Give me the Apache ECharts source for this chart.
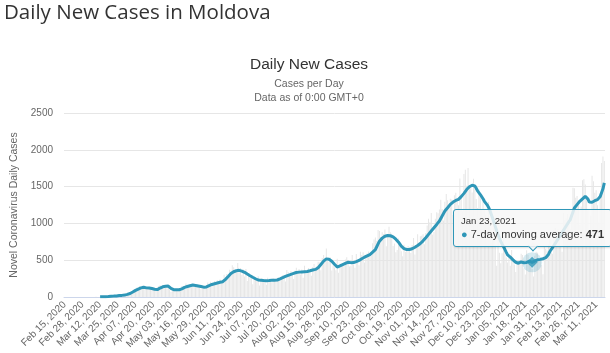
<!DOCTYPE html>
<html>
<head>
<meta charset="utf-8">
<script src="https://cdn.jsdelivr.net/npm/echarts@6/dist/echarts.min.js"></script>
<style>
  html, body { margin: 0; padding: 0; background: #fff; }
  #main { width: 610px; height: 353px; }
</style>
</head>
<body>
<div id="main"></div>
<script>
// first category (year, month 1-12, day) and how many days are on the axis
var startDate = [2020, 2, 15];
var dayCount = 397;

// y axis ticks
var yTicks = [0, 500, 1000, 1500, 2000, 2500];

// daily new cases (grey bars), Feb 15 2020 .. Mar 17 2021
var dailyCases = [
	0, 0, 0, 0, 0, 0, 0, 0, 0, 0, 0, 0, 0, 0, 0, 0, 0, 0, 0, 0, 0,
	1, 0, 2, 0, 0, 3, 6,
	6, 7, 6, 13, 11, 4, 19,
	14, 14, 26, 22, 13, 33, 22,
	22, 24, 36, 25, 58, 55, 33,
	66, 89, 100, 104, 128, 125, 151,
	112, 154, 113, 125, 131, 128, 115,
	110, 94, 102, 94, 117, 96, 148,
	158, 150, 163, 138, 146, 120, 155,
	99, 67, 118, 95, 110, 105, 96,
	112, 95, 151, 143, 112, 185, 135,
	159, 176, 162, 145, 178, 142, 170,
	141, 132, 106, 152, 147, 121, 140,
	196, 155, 207, 178, 174, 217, 173,
	229, 188, 237, 193, 222, 303, 259,
	314, 293, 370, 296, 431, 405, 345,
	332, 461, 337, 395, 302, 372, 280,
	380, 219, 325, 265, 263, 172, 246,
	259, 228, 281, 156, 258, 228, 239,
	248, 165, 262, 232, 246, 199, 255,
	238, 207, 263, 264, 239, 287, 300,
	271, 211, 366, 339, 286, 353, 320,
	244, 358, 399, 337, 380, 307, 375,
	262, 425, 368, 352, 394, 351, 289,
	408, 447, 367, 417, 480, 469, 363,
	530, 569, 519, 658, 489, 475, 538,
	360, 427, 402, 363, 520, 331, 452,
	421, 455, 420, 511, 539, 498, 413,
	426, 569, 445, 397, 585, 485, 432,
	614, 572, 608, 468, 567, 595, 618,
	550, 560, 731, 782, 808, 765, 910,
	898, 815, 879, 856, 917, 691, 825,
	955, 879, 859, 692, 727, 608, 637,
	794, 693, 622, 554, 710, 610, 667,
	694, 675, 599, 707, 803, 578, 707,
	851, 742, 824, 831, 853, 716, 870,
	970, 1063, 1017, 1141, 848, 883, 1063,
	1153, 1138, 1189, 1321, 1197, 1040, 1294,
	1400, 1313, 1249, 1335, 1326, 1114, 1384,
	1415, 1302, 1248, 1611, 1396, 1164, 1672,
	1728, 1510, 1752, 1506, 1491, 1419, 1605,
	1473, 1332, 1208, 1462, 1401, 1196, 1318,
	1183, 1120, 1004, 1290, 1003, 741, 848,
	957, 703, 426, 872, 601, 460, 594,
	825, 686, 538, 469, 576, 424, 640,
	485, 442, 341, 460, 489, 466, 587,
	571, 389, 307, 636, 573, 503, 412,
	381, 278, 559, 614, 600, 520, 504,
	430, 310, 698, 651, 633, 712, 873,
	657, 588, 915, 936, 872, 922, 862,
	685, 614, 1140, 1046, 1070, 1129, 1002,
	921, 1107, 1483, 1476, 1348, 1373, 1245,
	982, 1231, 1586, 1600, 1528, 1372, 1180,
	860, 1107, 1647, 1574, 1416, 1449, 1245,
	1011, 1404, 1821, 1908, 1847
];

// 7-day moving average (teal line)
var movingAvg = [
	null, null, null, null, null, null, null, null, null, null, null, null, null,
	null, null, null, null, null, null, null, null, null, null, null, null, null,
	2, 3, 3, 4, 5, 6, 7, 8, 10, 11, 12, 13, 15, 17, 19, 21, 22, 23,
	26, 30, 36, 42, 48, 58, 68, 78, 90, 100,
	108, 116, 124, 130,
	132, 128, 124, 126, 122, 120,
	115, 110, 106, 103, 100,
	110, 122, 132, 139,
	142, 145, 147, 148,
	135, 116, 102,
	100, 98, 100, 102, 99, 100,
	110, 120, 130,
	136, 142, 148, 153, 158, 162,
	160, 157, 154, 150, 148,
	143, 138, 134, 130,
	137, 145, 154, 162, 170, 176,
	180, 185, 190, 195, 200, 204, 208,
	222, 240, 258, 278, 298, 318, 333,
	343, 351, 357, 361,
	362, 358, 352, 347,
	336, 324, 312, 300, 289, 278,
	268, 258, 248, 239, 231,
	228, 226, 224, 223, 222, 222,
	223, 224, 225, 227, 228, 229, 230, 231,
	238, 246, 254, 262, 270, 279, 287,
	294, 300, 307, 313, 320, 327, 333,
	336, 338, 340, 341, 343, 344, 346, 347,
	351, 356, 361, 366, 370, 375, 380,
	398, 420, 442, 465, 488, 506, 518,
	520, 512, 500, 486,
	466, 446, 426, 407,
	412, 422, 432, 440,
	450, 458, 466, 472,
	470, 467, 464,
	468, 474, 480, 486,
	496, 508, 520, 532,
	541, 550, 559, 568, 577,
	594, 611, 628, 645,
	683, 721, 759,
	780, 800, 818,
	826, 832, 836,
	835, 832, 827,
	818, 805,
	786, 766, 745,
	718, 692, 668,
	658, 650, 645,
	644, 646, 650, 655,
	666, 677, 689, 700,
	714, 727,
	745, 763, 782,
	805, 828, 851, 873,
	896, 918, 941, 964,
	986, 1009, 1032,
	1066, 1100, 1134, 1168,
	1190, 1213, 1236, 1259,
	1275, 1290, 1305,
	1312, 1320, 1327,
	1345, 1364, 1382,
	1408, 1434, 1460, 1486,
	1498, 1510, 1518,
	1516, 1509,
	1478, 1441,
	1416, 1392, 1368,
	1334, 1300,
	1278, 1252, 1220, 1178,
	1125, 1070, 1015, 958, 900, 850, 800, 755, 718, 686,
	648, 610, 573,
	558, 542, 527,
	505, 482,
	472, 465, 459,
	468, 476, 482,
	466, 450,
	470, 490,
	486, 478, 471,
	480, 490, 498, 505,
	508, 511, 514,
	520, 527, 534, 541,
	578, 618,
	645, 672, 700, 728, 757, 786, 815, 845, 875, 905, 935, 965, 993, 1022, 1050,
	1103, 1156, 1209,
	1232, 1255, 1278, 1300,
	1317, 1334, 1351, 1368,
	1360, 1330, 1290, 1275, 1288, 1300,
	1308, 1315, 1323,
	1340, 1365, 1391,
	1470, 1550
];

// the point that the tooltip is pinned to (Jan 23, 2021)
var tipIndex = 343;

var monthNames = ['Jan', 'Feb', 'Mar', 'Apr', 'May', 'Jun', 'Jul', 'Aug', 'Sep', 'Oct', 'Nov', 'Dec'];
var lineColor = '#2f97b8';

var dates = [];
for (var i = 0; i < dayCount; i++) {
	var d = new Date(Date.UTC(startDate[0], startDate[1] - 1, startDate[2] + i));
	var dd = d.getUTCDate();
	dates.push(monthNames[d.getUTCMonth()] + ' ' + (dd < 10 ? '0' + dd : dd) + ', ' + d.getUTCFullYear());
}

var myChart = echarts.init(document.getElementById('main'), null, { renderer: 'canvas' });

var option = {
	animation: false,
	textStyle: { fontFamily: '"Liberation Sans", Arial, sans-serif' },
	graphic: [
		{ type: 'text', left: 4, top: 3, style: { text: 'Daily New Cases in Moldova', fill: '#333', font: '20.5px "Open Sans", sans-serif' } },
		{ type: 'text', x: 309, y: 65, style: { text: 'Daily New Cases', fill: '#333', font: '15.5px "Liberation Sans", Arial, sans-serif', textAlign: 'center', textVerticalAlign: 'middle' } },
		{ type: 'text', x: 309, y: 84, style: { text: 'Cases per Day', fill: '#666', font: '10.5px "Liberation Sans", Arial, sans-serif', textAlign: 'center', textVerticalAlign: 'middle' } },
		{ type: 'text', x: 309, y: 98, style: { text: 'Data as of 0:00 GMT+0', fill: '#666', font: '10.5px "Liberation Sans", Arial, sans-serif', textAlign: 'center', textVerticalAlign: 'middle' } }
	],
	grid: { left: 64, right: 5, top: 113, bottom: 56, containLabel: false },
	tooltip: {
		trigger: 'item',
		triggerOn: 'none',
		alwaysShowContent: true,
		position: 'top',
		backgroundColor: 'rgba(247,247,247,0.85)',
		borderColor: lineColor,
		borderWidth: 1,
		borderRadius: 3,
		padding: [4, 7],
		extraCssText: 'box-shadow:1px 1px 2px rgba(0,0,0,0.15);font-family:"Liberation Sans",Arial,sans-serif;',
		formatter: function(p) {
			var idx = p.value[0];
			return '<div style="font-size:9.5px;color:#333;line-height:13px">' + dates[idx] + '</div>' +
				'<div style="font-size:11px;color:#333;line-height:15px"><span style="color:' + lineColor + '">\u25CF</span> 7-day moving average: <b>' + movingAvg[idx] + '</b></div>';
		}
	},
	xAxis: {
		type: 'category',
		data: dates,
		boundaryGap: true,
		axisLine: { lineStyle: { color: '#ccd6eb' } },
		axisTick: { show: false },
		axisLabel: { interval: 12, rotate: 45, fontSize: 10, color: '#666', margin: 6 }
	},
	yAxis: {
		type: 'value',
		min: yTicks[0],
		max: yTicks[yTicks.length - 1],
		interval: yTicks[1] - yTicks[0],
		name: 'Novel Coronavirus Daily Cases',
		nameLocation: 'middle',
		nameGap: 36,
		nameTextStyle: { fontSize: 10.5, color: '#666' },
		axisLine: { show: false },
		axisTick: { show: false },
		axisLabel: { fontSize: 10, color: '#666', margin: 11, formatter: function(v) { return String(v); } },
		splitLine: { lineStyle: { color: '#e6e6e6' } }
	},
	series: [
		{
			name: 'Daily Cases',
			type: 'bar',
			data: dailyCases,
			barWidth: 1,
			itemStyle: { color: '#e6e6e6' },
			silent: true
		},
		{
			name: '7-day moving average',
			type: 'line',
			data: movingAvg,
			showSymbol: false,
			symbol: 'none',
			lineStyle: { color: lineColor, width: 3 },
			itemStyle: { color: lineColor },
			silent: true,
			z: 3
		},
		{
			// halo round the hovered point
			type: 'scatter',
			data: [[tipIndex, movingAvg[tipIndex]]],
			symbol: 'circle',
			symbolSize: 20,
			itemStyle: { color: 'rgba(47,151,184,0.25)' },
			silent: true,
			z: 4
		},
		{
			type: 'scatter',
			data: [[tipIndex, movingAvg[tipIndex]]],
			symbol: 'diamond',
			symbolSize: 11,
			itemStyle: { color: lineColor },
			z: 5
		}
	]
};

myChart.setOption(option);
myChart.dispatchAction({ type: 'showTip', seriesIndex: 3, dataIndex: 0 });
</script>
</body>
</html>
